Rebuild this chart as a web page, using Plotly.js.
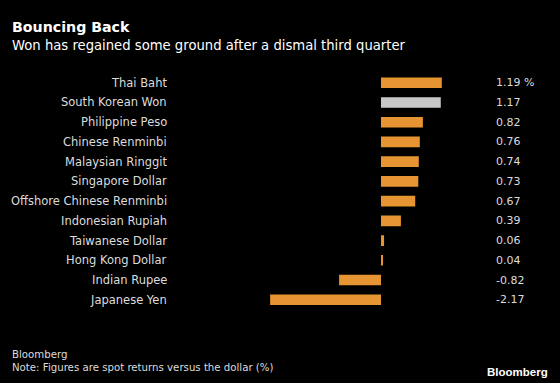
<!DOCTYPE html>
<html><head><meta charset="utf-8">
<script src="https://cdn.plot.ly/plotly-3.0.1.min.js"></script>
<style>html,body{margin:0;padding:0;background:#000;}</style>
</head><body><div id="chart" style="width:560px;height:383px;"></div>
<script>
var categories = ["Thai Baht","South Korean Won","Philippine Peso","Chinese Renminbi","Malaysian Ringgit","Singapore Dollar","Offshore Chinese Renminbi","Indonesian Rupiah","Taiwanese Dollar","Hong Kong Dollar","Indian Rupee","Japanese Yen"];
var returns = [1.19,1.17,0.82,0.76,0.74,0.73,0.67,0.39,0.06,0.04,-0.82,-2.17];
var valueLabels = ["1.19 %","1.17","0.82","0.76","0.74","0.73","0.67","0.39","0.06","0.04","-0.82","-2.17"];
var highlight = "South Korean Won";

var FONT = "DejaVu Sans, sans-serif";
var colors = categories.map(function(c){ return c === highlight ? "#c8c8c8" : "#e69532"; });

var trace = {
  type: "bar", orientation: "h",
  x: returns, y: categories,
  marker: {color: colors},
  hoverinfo: "none"
};

var annotations = [];
categories.forEach(function(c, i){
  annotations.push({xref:"paper", yref:"y", x:169/560, y:c, text:c, showarrow:false,
    xanchor:"right", yanchor:"middle", font:{family:FONT, size:11.5, color:"#dcdcdc"}});
  annotations.push({xref:"paper", yref:"y", x:494/560, y:c, text:valueLabels[i], showarrow:false,
    xanchor:"left", yanchor:"middle", font:{family:FONT, size:11, color:"#dcdcdc"}});
});
annotations.push({xref:"paper", yref:"paper", x:10/560, y:1-27/383, text:"<b>Bouncing Back</b>", showarrow:false,
  xanchor:"left", yanchor:"middle", font:{family:FONT, size:14.2, color:"#ffffff"}});
annotations.push({xref:"paper", yref:"paper", x:10/560, y:1-45/383, text:"Won has regained some ground after a dismal third quarter", showarrow:false,
  xanchor:"left", yanchor:"middle", font:{family:FONT, size:13.2, color:"#ffffff"}});
annotations.push({xref:"paper", yref:"paper", x:10/560, y:1-354/383, text:"Bloomberg", showarrow:false,
  xanchor:"left", yanchor:"middle", font:{family:FONT, size:10.2, color:"#dcdcdc"}});
annotations.push({xref:"paper", yref:"paper", x:10/560, y:1-367/383, text:"Note: Figures are spot returns versus the dollar (%)", showarrow:false,
  xanchor:"left", yanchor:"middle", font:{family:FONT, size:10.2, color:"#dcdcdc"}});
annotations.push({xref:"paper", yref:"paper", x:550/560, y:1-372/383, text:"<b>Bloomberg</b>", showarrow:false,
  xanchor:"right", yanchor:"middle", font:{family:"Liberation Sans, Arial, sans-serif", size:11.5, color:"#ffffff"}});

var layout = {
  width:560, height:383,
  margin:{l:0,r:0,t:0,b:0},
  paper_bgcolor:"#000", plot_bgcolor:"#000",
  showlegend:false,
  bargap:0.46,
  xaxis:{range:[-2.2,1.2], domain:[268.6/560, 442.3/560], showgrid:false, zeroline:false,
         showticklabels:false, ticks:"", showline:false, fixedrange:true},
  yaxis:{type:"category", categoryorder:"array", categoryarray:categories, autorange:false,
         range:[11.5,-0.5], domain:[1-309.6/383, 1-72.9/383], showgrid:false, zeroline:false,
         showticklabels:false, ticks:"", showline:false, fixedrange:true},
  annotations: annotations
};
Plotly.newPlot("chart", [trace], layout, {displayModeBar:false, staticPlot:true});
</script></body></html>
